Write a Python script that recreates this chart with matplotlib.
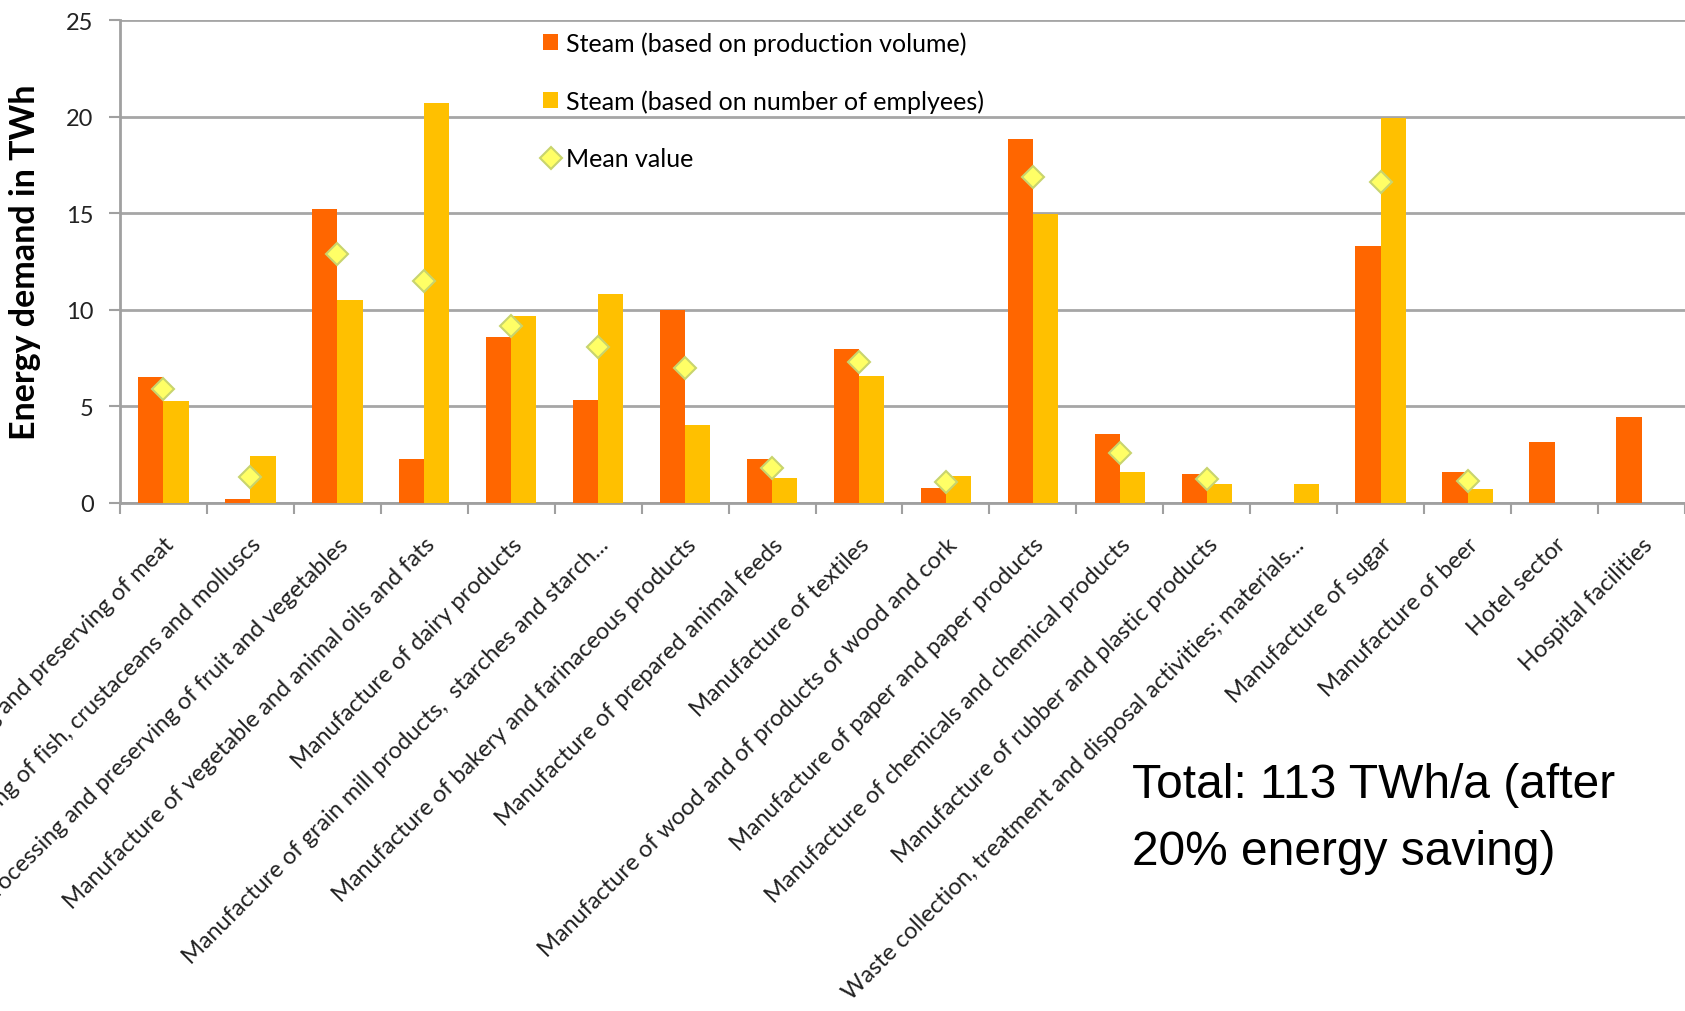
import numpy as np
import matplotlib
matplotlib.use("Agg")
import matplotlib.pyplot as plt

categories = [
    "Processing and preserving of meat",
    "Processing and preserving of fish, crustaceans and molluscs",
    "Processing and preserving of fruit and vegetables",
    "Manufacture of vegetable and animal oils and fats",
    "Manufacture of dairy products",
    "Manufacture of grain mill products,  starches and starch...",
    "Manufacture of bakery and farinaceous products",
    "Manufacture of prepared animal feeds",
    "Manufacture of textiles",
    "Manufacture of wood and of products of wood and cork",
    "Manufacture of paper and paper products",
    "Manufacture of chemicals and chemical products",
    "Manufacture of rubber and plastic products",
    "Waste collection, treatment and disposal activities; materials...",
    "Manufacture of sugar",
    "Manufacture of beer",
    "Hotel sector",
    "Hospital facilities",
]

steam_production = [6.5, 0.22, 15.25, 2.3, 8.6, 5.35, 10.0, 2.3, 8.0, 0.8,
                    18.85, 3.55, 1.5, 0.0, 13.3, 1.6, 3.15, 4.45]
steam_employees = [5.3, 2.45, 10.5, 20.7, 9.7, 10.8, 4.05, 1.3, 6.6, 1.4,
                   14.95, 1.6, 1.0, 1.0, 19.95, 0.7, 0.0, 0.0]
mean_value = [5.9, 1.33, 12.88, 11.5, 9.15, 8.08, 7.0, 1.8, 7.3, 1.1,
              16.9, 2.58, 1.25, np.nan, 16.63, 1.15, np.nan, np.nan]

y_ticks = [0, 5, 10, 15, 20, 25]

plt.rcParams["font.family"] = ["Lato", "DejaVu Sans"]

fig = plt.figure(figsize=(16.85, 10.12), dpi=100)
ax = fig.add_axes([0.0712, 0.502, 0.9288, 0.477])

x = np.arange(len(categories))
w = 0.29
b1 = ax.bar(x - w / 2, steam_production, width=w, color="#FF6600",
            label="Steam (based on production volume)", zorder=3)
b2 = ax.bar(x + w / 2, steam_employees, width=w, color="#FFC000",
            label="Steam (based on number of emplyees)", zorder=3)
mk, = ax.plot(x, mean_value, linestyle="none", marker="D", markersize=11,
              markerfacecolor="#FFFF66", markeredgecolor="#C8D46E",
              markeredgewidth=1.5, label="Mean value", zorder=4)

ax.set_xlim(-0.5, len(categories) - 0.5)
ax.set_ylim(0, 25)
ax.set_yticks(y_ticks)
ax.yaxis.grid(True, color="#A6A6A6", linewidth=2, zorder=0)
ax.set_axisbelow(True)

for side in ("top", "right"):
    ax.spines[side].set_visible(False)
for side in ("left", "bottom"):
    ax.spines[side].set_color("#A0A0A0")
    ax.spines[side].set_linewidth(2)

ax.tick_params(axis="y", length=8, width=1.5, color="#A0A0A0",
               labelsize=17, pad=11, labelcolor="#222222")

# boundary ticks between categories, labels at category centres
ax.set_xticks(np.arange(len(categories) + 1) - 0.5)
ax.set_xticklabels([])
ax.tick_params(axis="x", which="major", length=8, width=1.5, color="#A0A0A0")
ax.set_xticks(x, minor=True)
ax.set_xticklabels(categories, minor=True, rotation=45, ha="right",
                   va="top", rotation_mode="anchor", fontsize=17,
                   color="#222222")
ax.tick_params(axis="x", which="minor", length=0, pad=22)

ax.set_ylabel("Energy demand in TWh", fontsize=24.5, fontweight="bold")
ax.yaxis.set_label_coords(-0.0505, 0.5)

leg = ax.legend(handles=[b1, b2, mk], loc="upper left",
                bbox_to_anchor=(0.3166, 0.978),
                bbox_transform=fig.transFigure, frameon=False, fontsize=18,
                handlelength=0.6, handleheight=0.6, handletextpad=0.3,
                labelspacing=1.38, borderaxespad=0)

fig.text(0.672, 0.246, "Total: 113 TWh/a (after\n20% energy saving)",
         fontsize=34.5, family=["Liberation Sans", "DejaVu Sans"],
         va="top", ha="left", linespacing=1.62)

fig.savefig("out.png", dpi=100, facecolor="white")
